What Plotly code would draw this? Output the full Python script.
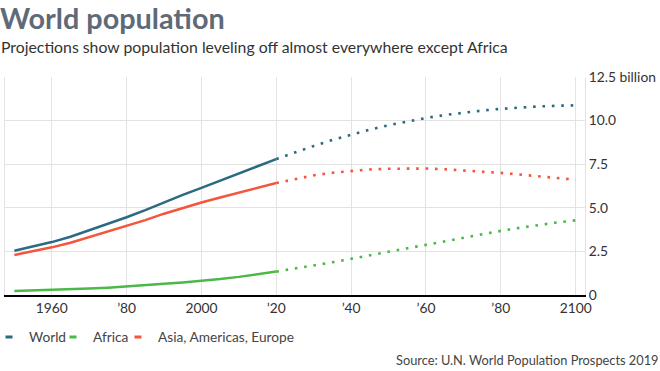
import plotly.graph_objects as go

years = list(range(1950, 2101, 5))
world = [2.536, 2.773, 3.034, 3.340, 3.700, 4.079, 4.458, 4.871, 5.327, 5.744,
         6.143, 6.542, 6.957, 7.380, 7.795, 8.184, 8.548, 8.888, 9.199, 9.482,
         9.735, 9.958, 10.152, 10.318, 10.459, 10.577, 10.674, 10.750, 10.810,
         10.852, 10.875]
africa = [0.228, 0.254, 0.285, 0.322, 0.366, 0.419, 0.483, 0.556, 0.638, 0.721,
          0.811, 0.916, 1.039, 1.182, 1.341, 1.512, 1.688, 1.878, 2.077, 2.281,
          2.489, 2.695, 2.897, 3.101, 3.301, 3.492, 3.676, 3.850, 4.013, 4.159,
          4.280]
others = [2.295, 2.505, 2.733, 3.000, 3.315, 3.639, 3.952, 4.290, 4.662, 4.994,
          5.301, 5.592, 5.881, 6.158, 6.420, 6.660, 6.860, 7.010, 7.120, 7.200,
          7.240, 7.260, 7.250, 7.210, 7.150, 7.080, 7.000, 6.910, 6.810, 6.710,
          6.610]
projection_start = 2020

series_names = ["World", "Africa", "Asia, Americas, Europe"]
series_values = [world, africa, others]
colors = ["#2b6b82", "#4cb84a", "#f4553c"]

x_tickvals = [1960, 1980, 2000, 2020, 2040, 2060, 2080, 2100]
x_ticktext = ["1960", "\u201980", "2000", "\u201920", "\u201940", "\u201960", "\u201980", "2100"]
y_tickvals = [0, 2.5, 5, 7.5, 10, 12.5]
y_ticktext = ["0", "2.5", "5.0", "7.5", "10.0", "12.5 billion"]

FONT = "Lato, 'Noto Sans', sans-serif"
W, H = 660, 371
PL, PW, PT, PH = 5, 580, 77, 218  # plot-area geometry in px
legend_ids = ["legend", "legend2", "legend3"]
legend_left_px = [-11, 53, 118]

fig = go.Figure()
cut = years.index(projection_start)
for name, vals, col in zip(series_names, series_values, colors):
    fig.add_trace(go.Scatter(x=years[:cut + 1], y=vals[:cut + 1], mode="lines",
                             line=dict(color=col, width=2.5), showlegend=False,
                             hoverinfo="skip"))
    fig.add_trace(go.Scatter(x=years[cut:], y=vals[cut:], mode="lines",
                             line=dict(color=col, width=2.6, dash="2.6px,6.8px"),
                             showlegend=False, hoverinfo="skip"))
for name, col, lid in zip(series_names, colors, legend_ids):
    fig.add_trace(go.Scatter(x=[None], y=[None], mode="markers", name=name,
                             legend=lid,
                             marker=dict(symbol="line-ew-open", size=5, color=col,
                                         line=dict(color=col, width=3))))

legend_layout = {}
for lid, lx in zip(legend_ids, legend_left_px):
    legend_layout[lid] = dict(orientation="h", xref="paper", x=(lx - PL) / PW,
                              xanchor="left", yref="paper",
                              y=(PT + PH - 337) / PH, yanchor="middle",
                              font=dict(family=FONT, size=13.7, color="#444444"),
                              bgcolor="rgba(0,0,0,0)", itemwidth=30)

fig.update_layout(
    width=W, height=H,
    margin=dict(l=PL, r=W - PL - PW, t=PT, b=H - PT - PH, autoexpand=False),
    paper_bgcolor="white", plot_bgcolor="white",
    font=dict(family=FONT, size=13.5, color="#333333"),
    title=dict(text="<b>World population</b>", x=0.0, xref="container",
               y=1 - 19 / H, yref="container", yanchor="middle", xanchor="left",
               font=dict(family=FONT, size=28.8, color="#5f6a78")),
    showlegend=True,
    xaxis=dict(range=[1947.5, 2102.5], tickvals=x_tickvals, ticktext=x_ticktext,
               showgrid=True, gridcolor="#e3e3e3", gridwidth=1,
               showline=True, linecolor="#000000", linewidth=1.5,
               ticks="", zeroline=False, tickfont=dict(size=13.8, color="#333333")),
    yaxis=dict(range=[0, 12.5], side="right", tickvals=y_tickvals, ticktext=y_ticktext,
               showgrid=True, gridcolor="#e3e3e3", gridwidth=1,
               showline=True, mirror=True, linecolor="#e3e3e3", linewidth=1,
               ticks="", zeroline=False, tickfont=dict(size=13.8, color="#333333")),
    annotations=[
        dict(text="Projections show population leveling off almost everywhere except Africa",
             xref="paper", yref="paper", x=(-1 - PL) / PW, y=(PT + PH - 46) / PH,
             xanchor="left", yanchor="middle", showarrow=False,
             font=dict(family=FONT, size=15.8, color="#333333")),
        dict(text="Source: U.N. World Population Prospects 2019",
             xref="paper", yref="paper", x=(661 - PL) / PW, y=(PT + PH - 360) / PH,
             xanchor="right", yanchor="middle", showarrow=False,
             font=dict(family=FONT, size=12.8, color="#444444")),
    ],
    **legend_layout,
)

fig.write_html("out.html", config={"displayModeBar": False},
               post_script="document.body.style.margin='0';")
